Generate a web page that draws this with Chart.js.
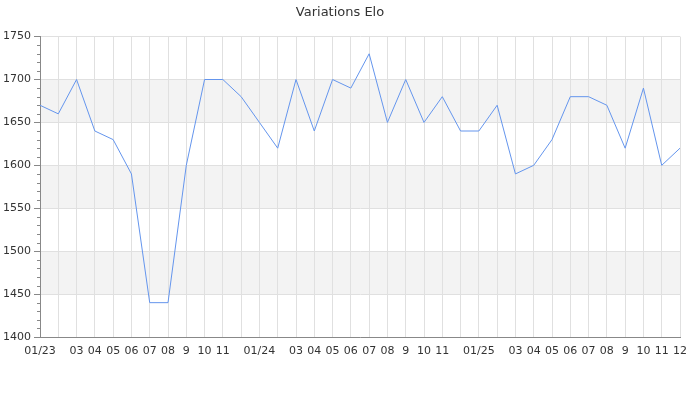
<!DOCTYPE html>
<html>
<head>
<meta charset="utf-8">
<script src="https://cdn.jsdelivr.net/npm/chart.js@4/dist/chart.umd.min.js"></script>
<style>
  body { margin: 0; background: #fff; }
  #wrap { width: 700px; height: 400px; }
</style>
</head>
<body>
<div id="wrap"><canvas id="elo"></canvas></div>
<script>
// month labels (some are left empty like in the original)
var xLabels = ["01/23","","03","04","05","06","07","08","9","10","11","",
               "01/24","","03","04","05","06","07","08","9","10","11","",
               "01/25","","03","04","05","06","07","08","9","10","11","12"];

var elo = [1670,1660,1700,1640,1630,1590,1440,1440,1600,1700,1700,1680,
           1650,1620,1700,1640,1700,1690,1730,1650,1700,1650,1680,1640,
           1640,1670,1590,1600,1630,1680,1680,1670,1620,1690,1600,1620];

var yMin = 1400;
var yMax = 1750;
var bandStep = 50;

/* grey bands behind the grid */
var bands = {
    id: "bands",
    beforeDraw: function(chart) {
        var c = chart.ctx;
        var area = chart.chartArea;
        var y = chart.scales.y;
        c.save();
        c.fillStyle = "#f3f3f3";
        for (var v = yMin; v < yMax; v += bandStep) {
            if (((v - yMin) / bandStep) % 2 == 1) {
                var top = y.getPixelForValue(v + bandStep);
                var bot = y.getPixelForValue(v);
                c.fillRect(area.left, top, area.right - area.left, bot - top);
            }
        }
        c.restore();
    }
};

/* short minor ticks on the y axis */
var minorTicks = {
    id: "minorTicks",
    afterDraw: function(chart) {
        var c = chart.ctx;
        var y = chart.scales.y;
        c.save();
        c.strokeStyle = "#888";
        c.lineWidth = 1;
        y.ticks.forEach(function(t) {
            if (t.value % bandStep != 0) {
                var py = Math.round(y.getPixelForValue(t.value)) + 0.5;
                c.beginPath();
                c.moveTo(y.right - 3, py);
                c.lineTo(y.right, py);
                c.stroke();
            }
        });
        c.restore();
    }
};

new Chart(document.getElementById("elo").getContext("2d"), {
    type: "line",
    data: {
        labels: xLabels,
        datasets: [{
            label: "Elo",
            data: elo,
            borderColor: "#6495ed",
            borderWidth: 1,
            pointRadius: 0,
            tension: 0,
            fill: false
        }]
    },
    options: {
        responsive: true,
        maintainAspectRatio: false,
        animation: false,
        layout: { padding: { left: 0, right: 20, top: 0, bottom: 0 } },
        plugins: {
            legend: { display: false },
            tooltip: { enabled: false },
            title: {
                display: true,
                text: "Variations Elo",
                color: "#333",
                font: { family: "DejaVu Sans", size: 13, weight: "normal" },
                padding: { top: 5, bottom: 16 }
            }
        },
        scales: {
            x: {
                offset: false,
                grid: { color: "#e0e0e0", drawTicks: false },
                border: { color: "#888" },
                ticks: {
                    autoSkip: false,
                    maxRotation: 0,
                    padding: 8,
                    color: "#333",
                    font: { family: "DejaVu Sans", size: 11 }
                },
                afterFit: function(scale) { scale.height = 63; }
            },
            y: {
                min: yMin,
                max: yMax,
                grid: {
                    color: function(ctx) {
                        return ctx.tick && ctx.tick.value % bandStep == 0 ? "#e0e0e0" : "rgba(0,0,0,0)";
                    },
                    tickColor: function(ctx) {
                        return ctx.tick && ctx.tick.value % bandStep == 0 ? "#888" : "rgba(0,0,0,0)";
                    },
                    tickLength: 6
                },
                border: { color: "#888" },
                ticks: {
                    stepSize: 10,
                    autoSkip: false,
                    padding: 3,
                    color: "#333",
                    font: { family: "DejaVu Sans", size: 11 },
                    callback: function(value) { return value % bandStep == 0 ? value : ""; }
                },
                afterFit: function(scale) { scale.width = 40; }
            }
        }
    },
    plugins: [bands, minorTicks]
});
</script>
</body>
</html>
